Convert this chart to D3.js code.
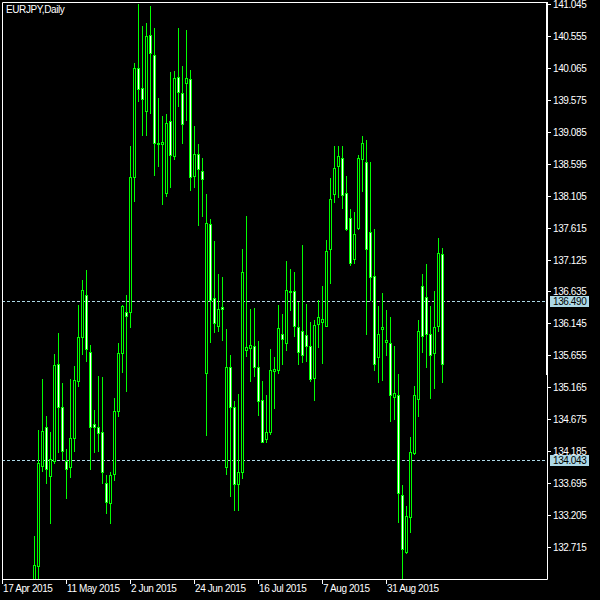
<!DOCTYPE html>
<html><head><meta charset="utf-8">
<script src="https://cdn.jsdelivr.net/npm/d3@7"></script>
<style>html,body{margin:0;padding:0;background:#000;}svg{display:block;}</style>
</head><body>
<script>
const symbolTitle = "EURJPY,Daily";
const firstBar = 8; // bars 0..7 lie below the visible price range
const opens = [132.10,132.43,133.95,134.55,133.81,134.03,135.53,134.87,134.04,133.94,134.38,135.26,135.93,136.58,135.71,134.60,134.55,134.48,133.69,133.39,133.83,134.80,135.69,136.32,136.32,138.39,140.06,139.75,139.41,140.57,140.26,138.91,138.90,138.15,139.25,138.72,139.92,139.68,139.84,139.89,138.40,138.74,138.49,135.38,137.67,136.53,136.11,136.40,133.94,135.48,134.87,133.68,133.86,135.74,135.77,135.80,135.47,134.97,134.37,134.48,135.42,135.43,135.98,135.85,136.64,136.64,136.09,136.03,135.97,135.80,135.31,136.13,136.17,136.11,137.28,138.13,138.56,138.69,138.14,137.76,137.14,137.61,138.66,138.62,137.54,136.88,135.63,136.06,135.86,135.84,135.02,135.04,133.51,132.64,133.17,134.15,134.98,136.72,136.55,135.99,135.69,136.11,137.21];
const highs = [132.88,134.51,135.29,134.73,134.48,135.68,136.00,135.23,134.22,135.29,135.49,136.42,136.81,136.96,135.81,134.82,135.34,135.32,133.82,133.87,135.00,135.84,136.43,136.58,138.87,140.14,141.04,140.71,140.75,141.01,140.68,139.61,139.33,139.36,140.00,140.02,140.68,140.09,140.65,140.03,139.17,138.90,138.68,138.13,137.75,137.41,136.90,136.85,136.06,135.66,134.96,135.06,137.29,137.79,136.37,136.38,135.88,135.26,135.05,135.76,135.63,136.43,136.29,137.10,136.98,136.93,136.47,137.35,136.44,136.16,136.20,136.50,136.72,137.43,138.38,138.87,138.87,138.87,138.41,137.90,137.85,138.73,139.02,138.96,138.62,137.59,136.41,136.61,136.35,136.24,135.80,135.37,133.67,133.34,134.41,135.19,136.20,136.91,137.06,136.41,136.64,137.46,137.30];
const lows = [131.95,132.05,133.88,133.69,133.09,134.01,134.18,134.07,133.47,133.79,134.19,135.19,135.68,135.57,133.91,134.18,134.19,133.70,133.23,133.08,133.74,134.73,135.40,135.11,136.09,138.03,139.56,139.03,139.04,139.37,138.42,138.56,137.98,138.10,138.24,138.67,139.48,138.92,139.26,138.19,138.24,137.66,137.79,134.43,135.86,136.02,136.03,135.89,133.84,133.49,133.28,133.28,133.78,135.64,135.26,135.34,134.74,134.32,134.33,134.45,134.84,135.39,135.52,135.74,136.35,135.95,135.53,135.56,135.57,135.26,134.97,135.79,135.54,136.10,136.77,138.01,138.09,137.92,137.58,137.04,137.07,137.59,138.17,135.99,136.50,135.43,135.25,135.28,135.66,134.65,134.68,133.10,132.18,132.63,132.95,134.14,134.73,135.71,135.48,135.00,135.15,136.03,135.24];
const closes = [132.44,134.00,134.49,133.91,134.06,135.50,134.87,134.19,133.91,134.39,135.28,135.93,136.66,135.75,134.55,134.55,134.46,133.86,133.41,133.82,134.80,135.69,136.41,136.26,138.39,140.06,139.74,139.59,140.55,140.29,138.91,138.90,138.93,139.22,138.73,139.91,139.69,139.21,139.91,138.39,138.74,138.51,138.36,137.68,136.50,136.15,136.36,136.37,135.48,134.87,133.68,133.86,136.93,135.79,135.81,135.47,134.96,134.33,134.48,135.43,135.44,136.07,135.90,136.66,136.63,136.11,135.70,135.66,135.80,135.29,136.12,136.24,136.21,137.26,138.06,138.53,138.71,138.11,137.59,137.07,137.51,138.68,138.92,137.28,136.85,135.53,135.99,136.09,135.89,135.04,135.07,133.54,132.68,133.19,134.17,135.04,136.03,135.95,135.99,135.66,136.09,137.22,135.53];
const priceTicks = [141.045,140.555,140.065,139.575,139.085,138.595,138.105,137.615,137.125,136.635,136.145,135.655,135.165,134.675,134.185,133.695,133.205,132.715];
const dateTickBars = [0,16,32,48,64,80,96];
const dateTickLabels = ["17 Apr 2015","11 May 2015","2 Jun 2015","24 Jun 2015","16 Jul 2015","7 Aug 2015","31 Aug 2015"];
const hLines = [136.490, 134.043];

(function () {
const W = 600, H = 600;
const pl = 2, pr = 547, pt = 2, pb = 579;
const green = "#00ff00", lineBlue = "#add8e6";
const font = "'Liberation Sans', Arial, sans-serif";

const svg = d3.select("body").append("svg").attr("width", W).attr("height", H)
  .style("background", "#000");

const x = d3.scaleLinear().domain([0, 136]).range([2, 2 + 4 * 136]);
const y = d3.scaleLinear().domain([132.715, 141.045]).range([547, 4]);

svg.append("defs").append("clipPath").attr("id", "plot")
  .append("rect").attr("x", pl).attr("y", pt).attr("width", pr - pl).attr("height", pb - pt);

const data = opens.map((o, k) => ({ i: firstBar + k, o, h: highs[k], l: lows[k], c: closes[k] }));

// dashed horizontal lines
svg.append("g").selectAll("line").data(hLines).join("line")
  .attr("x1", pl).attr("x2", pr)
  .attr("y1", d => Math.round(y(d)) + 0.5).attr("y2", d => Math.round(y(d)) + 0.5)
  .attr("stroke", lineBlue).attr("stroke-width", 1).attr("stroke-dasharray", "3,2");

const g = svg.append("g").attr("clip-path", "url(#plot)");
const cx = d => Math.round(x(d.i)) + 0.5;

g.selectAll("line.wick").data(data).join("line").attr("class", "wick")
  .attr("x1", cx).attr("x2", cx)
  .attr("y1", d => Math.round(y(d.h))).attr("y2", d => Math.round(y(d.l)) + 1)
  .attr("stroke", green).attr("stroke-width", 1).attr("shape-rendering", "crispEdges");

data.forEach(d => {
  const yt = Math.round(y(Math.max(d.o, d.c)));
  const yb = Math.round(y(Math.min(d.o, d.c)));
  if (yb - yt < 1) {
    g.append("line").attr("x1", cx(d) - 1.5).attr("x2", cx(d) + 1.5)
      .attr("y1", yt + 0.5).attr("y2", yt + 0.5).attr("stroke", green);
  } else {
    g.append("rect").attr("x", cx(d) - 1).attr("width", 2)
      .attr("y", yt + 0.5).attr("height", yb - yt)
      .attr("fill", d.c > d.o ? "#000" : "#fff").attr("stroke", green).attr("stroke-width", 1);
  }
});

// frame
svg.append("path").attr("d", `M${pl + 0.5},${pb + 0.5}V${pt + 0.5}H${pr + 0.5}V${pb + 0.5}H${pl + 0.5}`)
  .attr("fill", "none").attr("stroke", "#fff").attr("stroke-width", 1);
svg.append("rect").attr("x", pr - 1).attr("y", pt).attr("width", 2).attr("height", 375 - pt).attr("fill", "#fff");

// price axis
const pa = svg.append("g");
pa.selectAll("line").data(priceTicks).join("line")
  .attr("x1", pr + 1).attr("x2", pr + 4)
  .attr("y1", d => Math.round(y(d)) + 0.5).attr("y2", d => Math.round(y(d)) + 0.5)
  .attr("stroke", "#fff");
pa.selectAll("text").data(priceTicks).join("text")
  .attr("x", 553).attr("y", d => Math.round(y(d)) + 4)
  .attr("fill", "#fff").attr("font-family", font).attr("font-size", "10px").attr("letter-spacing", "-0.4px")
  .text(d => d.toFixed(3));

// highlighted price labels
const hl = svg.append("g").selectAll("g").data(hLines).join("g");
hl.append("rect").attr("x", 550).attr("y", d => Math.round(y(d)) - 5).attr("width", 39).attr("height", 11)
  .attr("fill", lineBlue);
hl.append("text").attr("x", 553).attr("y", d => Math.round(y(d)) + 4)
  .attr("fill", "#000").attr("font-family", font).attr("font-size", "10px").attr("letter-spacing", "-0.4px")
  .text(d => d.toFixed(3));

// date axis
const da = svg.append("g");
da.selectAll("line").data(dateTickBars).join("line")
  .attr("x1", d => Math.round(x(d)) + 0.5).attr("x2", d => Math.round(x(d)) + 0.5)
  .attr("y1", pb).attr("y2", pb + 5).attr("stroke", "#fff");
da.selectAll("text").data(dateTickBars).join("text")
  .attr("x", d => Math.round(x(d)) + 1).attr("y", 592)
  .attr("fill", "#fff").attr("font-family", font).attr("font-size", "10px").attr("letter-spacing", "-0.4px")
  .text((d, k) => dateTickLabels[k]);

svg.append("text").attr("x", 6).attr("y", 13).attr("fill", "#fff")
  .attr("font-family", font).attr("font-size", "10px").attr("letter-spacing", "-0.4px")
  .text(symbolTitle);
})();
</script>
</body></html>
